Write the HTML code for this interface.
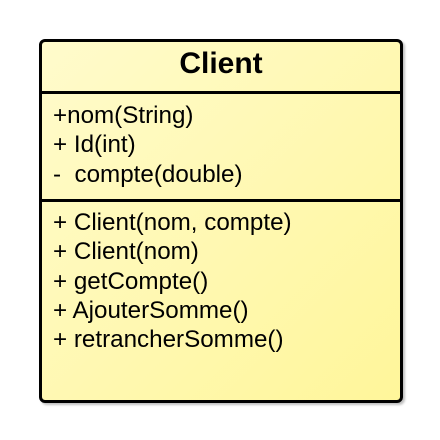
<html><body style="margin:0;background:#fff;width:440px;height:440px;position:relative;font-family:'Liberation Sans',sans-serif">
<div style="position:absolute;left:39px;top:39px;width:358px;height:358px;border:3px solid #000;border-radius:6px;background:linear-gradient(135deg,#fffbcc,#fff69a);box-shadow:2px 2px 2px rgba(0,0,0,0.25)"></div>
<div style="position:absolute;left:39px;width:364px;text-align:center;top:45px;font-weight:bold;font-size:30px;line-height:38px">Client</div>
<div style="position:absolute;left:40px;top:91px;width:360px;height:3px;background:#000"></div>
<div style="position:absolute;left:40px;top:199px;width:360px;height:3px;background:#000"></div>
<div style="position:absolute;left:53px;top:101px;font-size:24.2px;line-height:29.3px;white-space:pre">+nom(String)
+ Id(int)
-  compte(double)</div>
<div style="position:absolute;left:53px;top:208px;font-size:24.2px;line-height:29.3px;white-space:pre">+ Client(nom, compte)
+ Client(nom)
+ getCompte()
+ AjouterSomme()
+ retrancherSomme()</div>
</body></html>
